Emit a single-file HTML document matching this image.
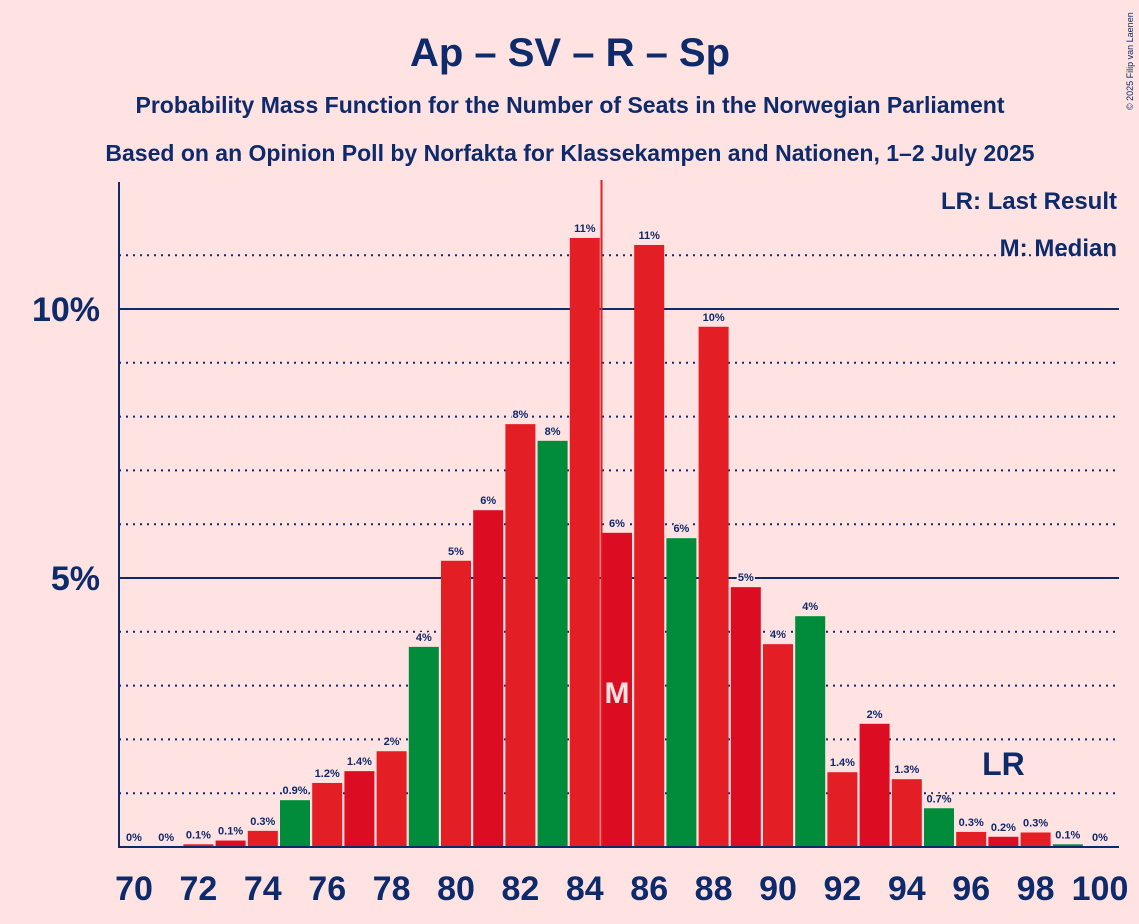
<!DOCTYPE html>
<html><head><meta charset="utf-8"><style>
body{margin:0;background:#ffe2e2;}
svg{display:block;font-family:"Liberation Sans",sans-serif;}
</style></head><body>
<svg id="chart" width="1139" height="924">
<rect width="1139" height="924" fill="#ffe2e2"/>
<text x="570" y="66" text-anchor="middle" font-size="40" font-weight="bold" fill="#0d2a6b">Ap – SV – R – Sp</text>
<text x="570" y="113" text-anchor="middle" font-size="23" font-weight="bold" fill="#0d2a6b">Probability Mass Function for the Number of Seats in the Norwegian Parliament</text>
<text x="570" y="161" text-anchor="middle" font-size="23" font-weight="bold" fill="#0d2a6b">Based on an Opinion Poll by Norfakta for Klassekampen and Nationen, 1–2 July 2025</text>
<text x="1133" y="110" font-size="9" fill="#0d2a6b" transform="rotate(-90 1133 110)">© 2025 Filip van Laenen</text>
<g id="grid"></g>
<g id="bars"></g>
<g id="labels"></g>
<text x="1117" y="209" text-anchor="end" font-size="24" font-weight="bold" fill="#0d2a6b">LR: Last Result</text>
<text x="1117" y="256" text-anchor="end" font-size="24" font-weight="bold" fill="#0d2a6b">M: Median</text>
</svg>
<script>
const seats=[70,71,72,73,74,75,76,77,78,79,80,81,82,83,84,85,86,87,88,89,90,91,92,93,94,95,96,97,98,99,100];
const probs=[0,0,0.05,0.12,0.3,0.87,1.19,1.41,1.78,3.72,5.32,6.26,7.86,7.55,11.32,5.84,11.19,5.74,9.67,4.83,3.77,4.29,1.39,2.29,1.26,0.72,0.28,0.19,0.27,0.05,0];
const labelsTxt=["0%","0%","0.1%","0.1%","0.3%","0.9%","1.2%","1.4%","2%","4%","5%","6%","8%","8%","11%","6%","11%","6%","10%","5%","4%","4%","1.4%","2%","1.3%","0.7%","0.3%","0.2%","0.3%","0.1%","0%"];
const yTicks=[5,10];
const xTickLabels=[70,72,74,76,78,80,82,84,86,88,90,92,94,96,98,100];
const median=85, lastResult=97;
const NS="http://www.w3.org/2000/svg";
const x=s=>134+(s-70)*32.2;
const y=p=>847-p*53.8;
function mk(t,a,parent){const e=document.createElementNS(NS,t);for(const k in a)e.setAttribute(k,a[k]);parent.appendChild(e);return e;}
const grid=document.getElementById('grid'),bars=document.getElementById('bars'),lab=document.getElementById('labels'),svg=document.getElementById('chart');
for(let p=1;p<=11;p++){
 const l=mk('line',{x1:119,x2:1119,y1:y(p),y2:y(p),stroke:'#0d2a6b','stroke-width':p%5==0?2:2,'stroke-dasharray':p%5==0?'':'2,5'},grid);
 
 
}
yTicks.forEach(t=>{const e=mk('text',{x:100,y:y(t)+12,'text-anchor':'end','font-size':34,'font-weight':'bold',fill:'#0d2a6b'},lab);e.textContent=t+'%';
 
 });
const cols=['#e31e24','#dc0c23','#e31e24','#008c3a'];
seats.forEach((s,i)=>{
 const p=probs[i];
 if(p>0){const r=mk('rect',{x:x(s)-15,y:y(p),width:30,height:847-y(p),fill:cols[(s-72+400)%4],stroke:'#ffe2e2','stroke-width':0},bars);
 
 }
 const t=mk('text',{x:x(s),y:y(p)-6,'text-anchor':'middle','font-size':11,'font-weight':'bold',fill:'#0d2a6b',stroke:'#ffe2e2','stroke-width':3,'paint-order':'stroke'},lab);
 t.textContent=labelsTxt[i];
 
 
});
xTickLabels.forEach(s=>{const t=mk('text',{x:x(s),y:900,'text-anchor':'middle','font-size':34,'font-weight':'bold',fill:'#0d2a6b'},lab);t.textContent=s;
 
 });
const ml=mk('line',{x1:x(median)-15.5,x2:x(median)-15.5,y1:180,y2:847,stroke:'#e31e24','stroke-width':2},lab);


const mt=mk('text',{x:x(median),y:703,'text-anchor':'middle','font-size':30,'font-weight':'bold',fill:'#ffe2e2'},lab);mt.textContent='M';


const lr=mk('text',{x:x(lastResult),y:775,'text-anchor':'middle','font-size':32,'font-weight':'bold',fill:'#0d2a6b'},lab);lr.textContent='LR';


const ya=mk('line',{x1:119,x2:119,y1:182,y2:848,stroke:'#0d2a6b','stroke-width':2},lab);


const xa=mk('line',{x1:118,x2:1119,y1:847,y2:847,stroke:'#0d2a6b','stroke-width':2},lab);


</script>
</body></html>
